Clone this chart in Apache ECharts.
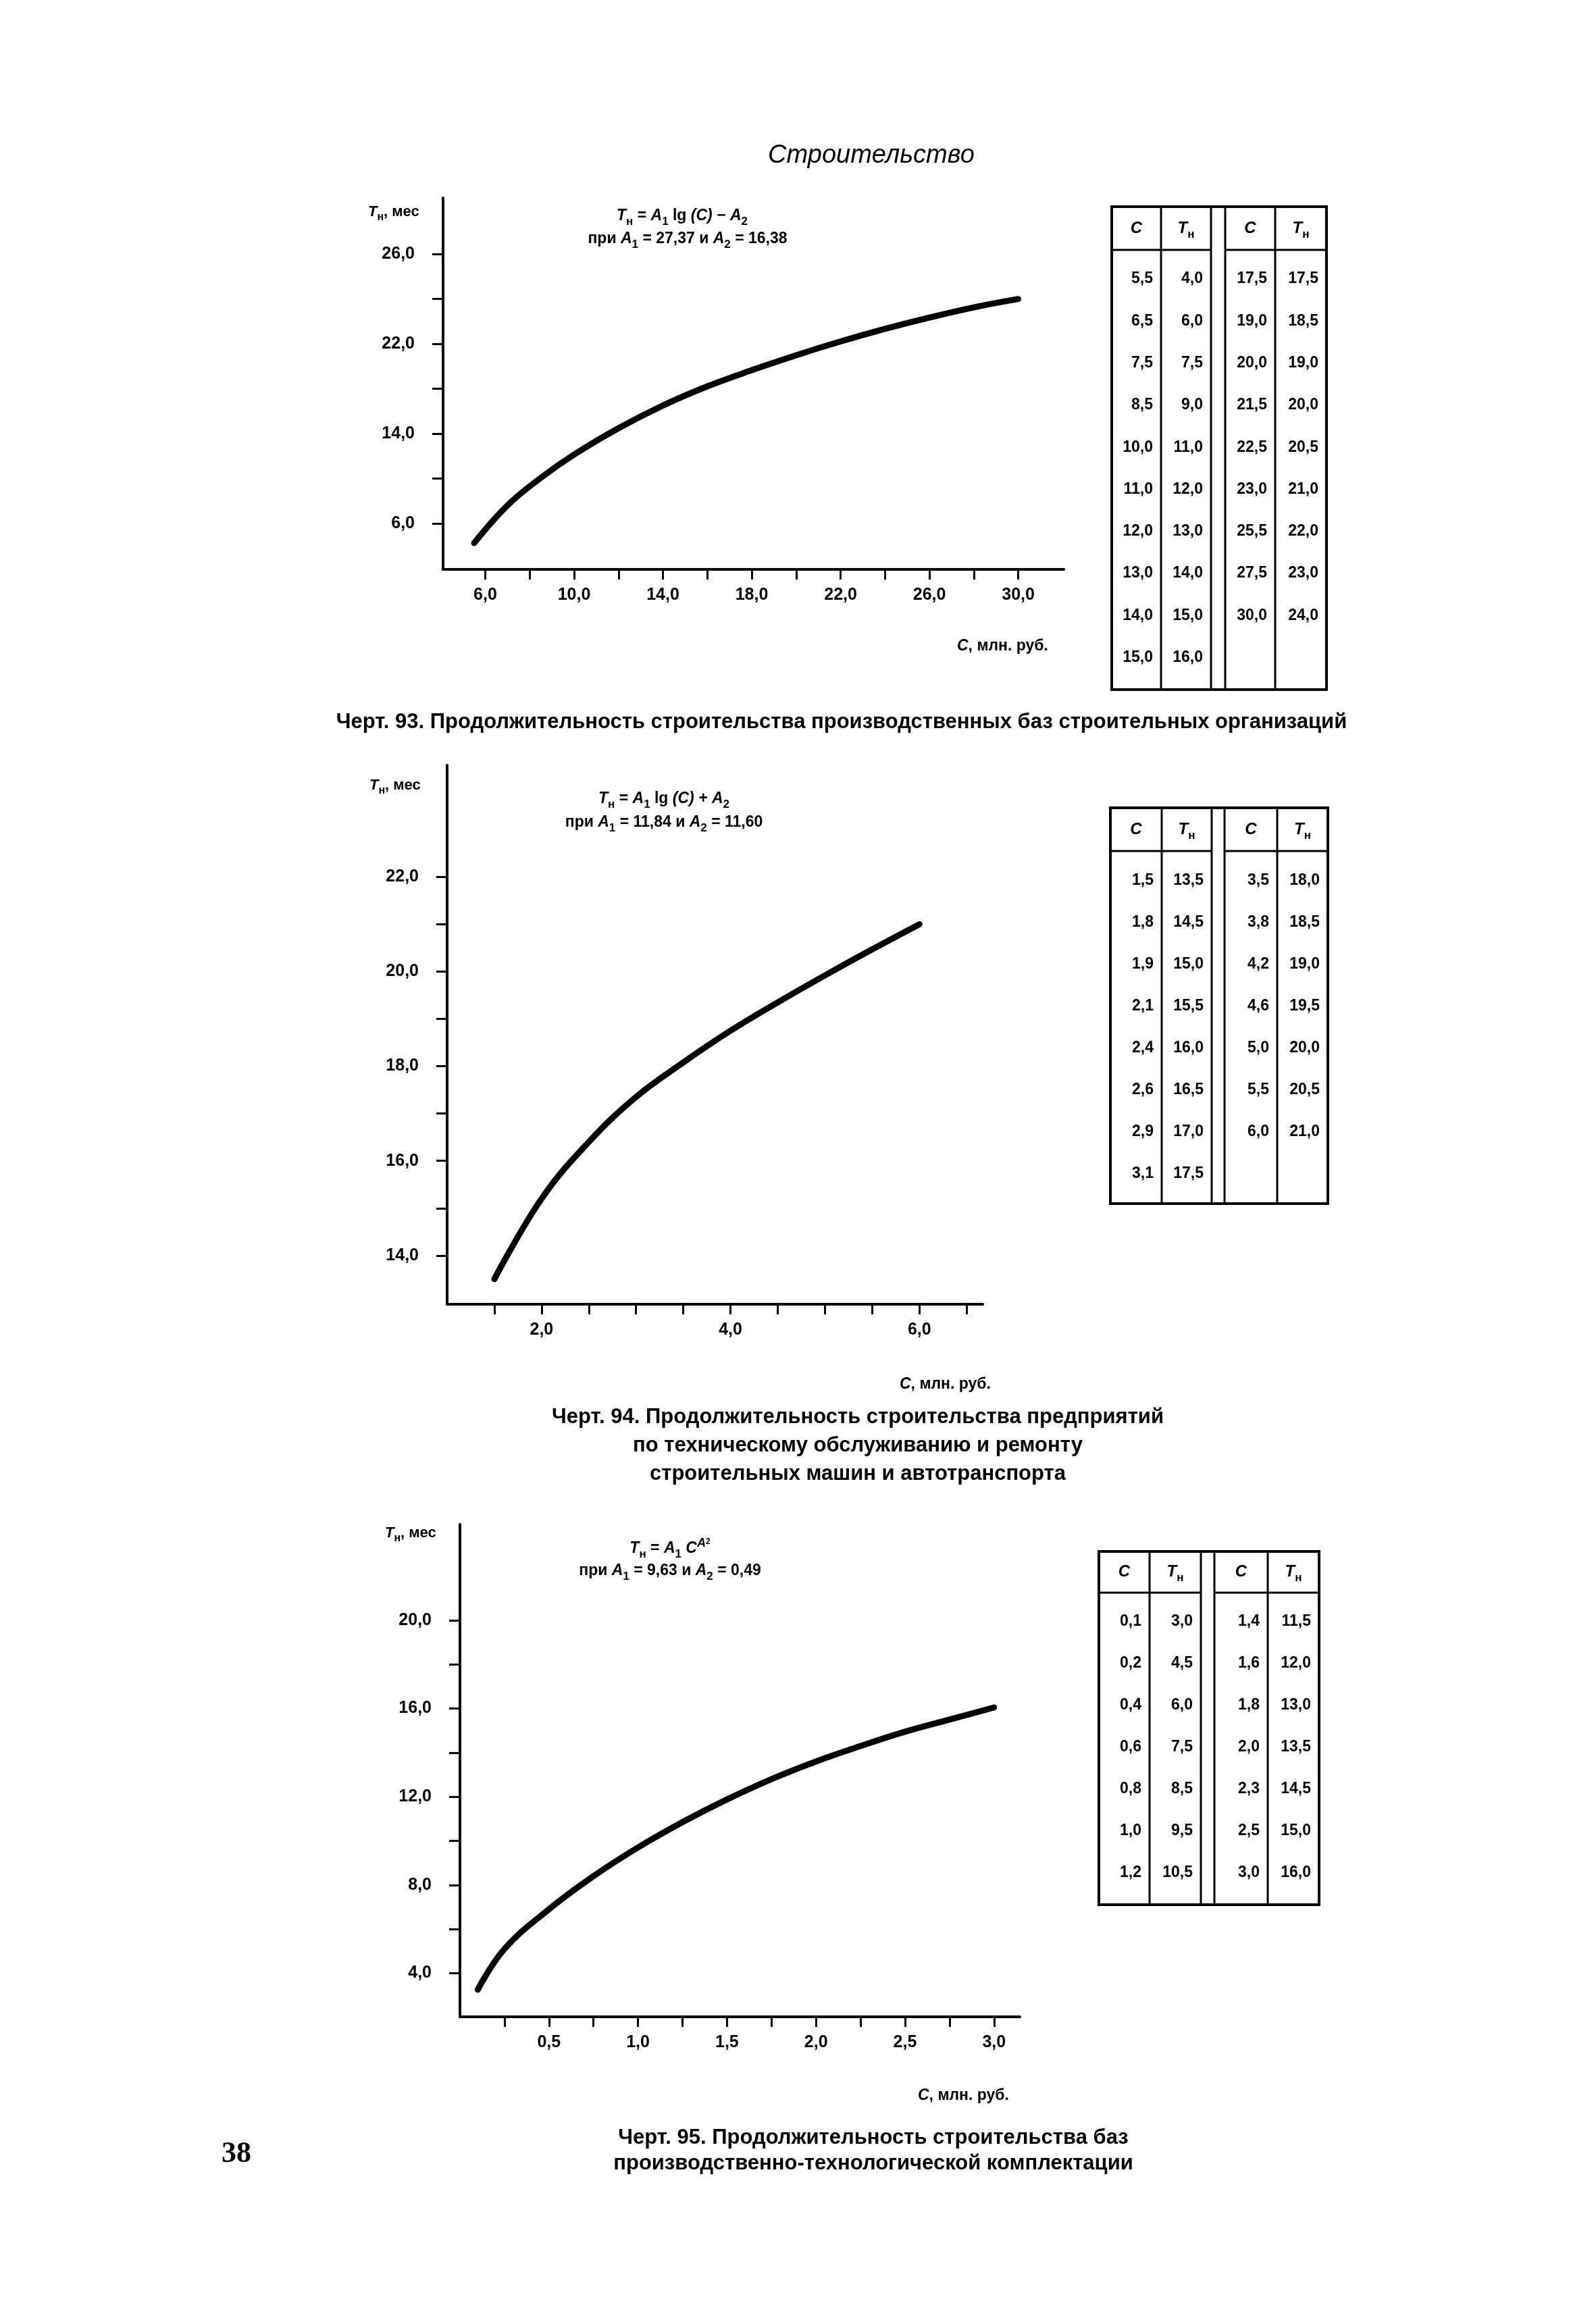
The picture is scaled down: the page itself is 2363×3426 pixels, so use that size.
<!DOCTYPE html>
<html>
<head>
<meta charset="utf-8">
<script src="https://cdn.jsdelivr.net/npm/echarts@6/dist/echarts.min.js"></script>
<style>
html,body{margin:0;padding:0;background:#fff;}
#chart{width:2363px;height:3426px;}
</style>
</head>
<body>
<div id="chart"></div>
<script>
// ---------- DATA ----------
// Chart 93 curve
const curve1C = [5.5, 7, 8.5, 10, 12, 14, 16, 18, 20, 22, 24, 26, 28, 30];
const curve1T = [3.6, 6.75, 9.05, 11.0, 13.2, 15.1, 16.7, 18.05, 19.3, 20.45, 21.5, 22.45, 23.3, 24.0];
// Chart 94 curve
const curve2C = [1.5, 2.0, 2.5, 3.0, 3.5, 4.0, 4.5, 5.0, 5.5, 6.0];
const curve2T = [13.5, 15.2, 16.4, 17.35, 18.08, 18.75, 19.35, 19.92, 20.47, 21.0];
// Chart 95 curve
const curve3C = [0.1, 0.25, 0.5, 0.75, 1.0, 1.25, 1.5, 1.75, 2.0, 2.25, 2.5, 2.75, 3.0];
const curve3T = [3.25, 5.1, 6.9, 8.4, 9.7, 10.85, 11.88, 12.8, 13.6, 14.3, 14.95, 15.5, 16.05];

// Tables
const tbl1C1 = ['5,5','6,5','7,5','8,5','10,0','11,0','12,0','13,0','14,0','15,0'];
const tbl1T1 = ['4,0','6,0','7,5','9,0','11,0','12,0','13,0','14,0','15,0','16,0'];
const tbl1C2 = ['17,5','19,0','20,0','21,5','22,5','23,0','25,5','27,5','30,0'];
const tbl1T2 = ['17,5','18,5','19,0','20,0','20,5','21,0','22,0','23,0','24,0'];

const tbl2C1 = ['1,5','1,8','1,9','2,1','2,4','2,6','2,9','3,1'];
const tbl2T1 = ['13,5','14,5','15,0','15,5','16,0','16,5','17,0','17,5'];
const tbl2C2 = ['3,5','3,8','4,2','4,6','5,0','5,5','6,0'];
const tbl2T2 = ['18,0','18,5','19,0','19,5','20,0','20,5','21,0'];

const tbl3C1 = ['0,1','0,2','0,4','0,6','0,8','1,0','1,2'];
const tbl3T1 = ['3,0','4,5','6,0','7,5','8,5','9,5','10,5'];
const tbl3C2 = ['1,4','1,6','1,8','2,0','2,3','2,5','3,0'];
const tbl3T2 = ['11,5','12,0','13,0','13,5','14,5','15,0','16,0'];

// Axis ticks / labels
const x1Ticks = [6, 8, 10, 12, 14, 16, 18, 20, 22, 24, 26, 28, 30];
const x1Labels = [6, 10, 14, 18, 22, 26, 30];
const y1Ticks = [5.25, 9, 12.75, 16.5, 20.25, 24, 27.75];
const y1LabelVals = [5.25, 12.75, 20.25, 27.75];
const y1LabelText = ['6,0', '14,0', '22,0', '26,0'];

const x2Ticks = [1.5, 2, 2.5, 3, 3.5, 4, 4.5, 5, 5.5, 6, 6.5];
const x2Labels = [2, 4, 6];
const y2Ticks = [14, 15, 16, 17, 18, 19, 20, 21, 22];
const y2Labels = [14, 16, 18, 20, 22];

const x3Ticks = [0.25, 0.5, 0.75, 1, 1.25, 1.5, 1.75, 2, 2.25, 2.5, 2.75, 3];
const x3Labels = [0.5, 1, 1.5, 2, 2.5, 3];
const y3Ticks = [4, 6, 8, 10, 12, 14, 16, 18, 20];
const y3Labels = [4, 8, 12, 16, 20];

// Texts
const pageTitle = 'Строительство';
const caption1 = ['Черт. 93. Продолжительность строительства производственных баз строительных организаций'];
const caption2 = ['Черт. 94. Продолжительность строительства предприятий', 'по техническому обслуживанию и ремонту', 'строительных машин и автотранспорта'];
const caption3 = ['Черт. 95. Продолжительность строительства баз', 'производственно-технологической комплектации'];
const pageNumber = '38';

// ---------- STYLE / LAYOUT ----------
const FF = '"Liberation Sans", Arial, Helvetica, sans-serif';
const BLACK = '#000';
const fmt = v => Number(v).toFixed(1).replace('.', ',');
const zip = (a, b) => a.map((v, i) => [v, b[i]]);

function richSet(fs) {
  const lh = Math.round(fs * 1.45);
  return {
    n: {fontSize: fs, fontWeight: 'bold', fontFamily: FF, color: BLACK, lineHeight: lh, verticalAlign: 'middle'},
    i: {fontSize: fs, fontWeight: 'bold', fontStyle: 'italic', fontFamily: FF, color: BLACK, lineHeight: lh, verticalAlign: 'middle'},
    s: {fontSize: Math.round(fs * 0.72), fontWeight: 'bold', fontFamily: FF, color: BLACK, lineHeight: Math.round(fs * 0.72), verticalAlign: 'bottom'},
    p: {fontSize: Math.round(fs * 0.8), fontWeight: 'bold', fontStyle: 'italic', fontFamily: FF, color: BLACK, lineHeight: Math.round(fs * 0.8), verticalAlign: 'top'},
    q: {fontSize: Math.round(fs * 0.5), fontWeight: 'bold', fontFamily: FF, color: BLACK, lineHeight: Math.round(fs * 1.1), verticalAlign: 'top'}
  };
}

function txt(x, y, text, opt) {
  opt = opt || {};
  const st = {
    text: text, fill: BLACK,
    font: opt.font || ('bold 24px ' + FF),
    align: opt.align || 'center', verticalAlign: 'middle',
    textAlign: opt.align || 'center', textVerticalAlign: 'middle'
  };
  if (opt.rich) st.rich = opt.rich;
  return {type: 'text', x: x, y: y, silent: true, style: st};
}

function ln(x1, y1, x2, y2, w) {
  return {type: 'line', silent: true, shape: {x1: x1, y1: y1, x2: x2, y2: y2},
          style: {stroke: BLACK, lineWidth: w || 3}};
}

function tableEls(L, c1, c2, c3, c4) {
  const els = [];
  const cols = L.cols;
  cols.forEach((x, i) => els.push(ln(x, L.top, x, L.bottom, (i === 0 || i === cols.length - 1) ? 4 : 3)));
  els.push(ln(cols[0] - 2, L.top, cols[5] + 2, L.top, 4));
  els.push(ln(cols[0] - 2, L.bottom, cols[5] + 2, L.bottom, 4));
  els.push(ln(cols[0], L.head, cols[2], L.head, 3));
  els.push(ln(cols[3], L.head, cols[5], L.head, 3));
  const hy = (L.top + L.head) / 2;
  const r = richSet(24);
  const hdr = [[0, '{i|C}'], [1, '{i|T}{s|н}'], [3, '{i|C}'], [4, '{i|T}{s|н}']];
  hdr.forEach(([ci, t]) => els.push(txt((cols[ci] + cols[ci + 1]) / 2, hy, t, {rich: r})));
  const cf = 'bold 23px ' + FF;
  const colData = [[0, c1], [1, c2], [3, c3], [4, c4]];
  colData.forEach(([ci, arr]) => {
    arr.forEach((v, k) => els.push(txt(cols[ci + 1] - 12, L.row0 + k * L.step, v, {font: cf, align: 'right'})));
  });
  return els;
}

const T1 = {cols: [1646, 1719, 1793, 1814, 1888, 1964], top: 306, head: 370, bottom: 1021, row0: 413, step: 62.3};
const T2 = {cols: [1644, 1720, 1794, 1813, 1891, 1966], top: 1196, head: 1260, bottom: 1782, row0: 1304, step: 62.0};
const T3 = {cols: [1627, 1702, 1778, 1798, 1877, 1953], top: 2297, head: 2358, bottom: 2820, row0: 2401, step: 62.0};

const r20 = richSet(22);
const r22 = richSet(23);

const graphics = [].concat(
  [txt(1290, 230, pageTitle, {font: 'italic 38px ' + FF})],
  // chart 93
  [txt(545, 314, '{i|T}{s|н}{n|, мес}', {rich: r20, align: 'left'}),
   txt(1010, 320, '{i|T}{s|н}{n| = }{i|A}{s|1}{n| lg }{i|(C) − A}{s|2}', {rich: r22}),
   txt(1018, 354, '{n|при }{i|A}{s|1}{n| = 27,37 и }{i|A}{s|2}{n| = 16,38}', {rich: r22}),
   txt(1417, 957, '{i|C}{n|, млн. руб.}', {rich: r22, align: 'left'})],
  caption1.map((t, k) => txt(1246, 1069 + k * 41, t, {font: 'bold 31px ' + FF})),
  tableEls(T1, tbl1C1, tbl1T1, tbl1C2, tbl1T2),
  // chart 94
  [txt(547, 1163, '{i|T}{s|н}{n|, мес}', {rich: r20, align: 'left'}),
   txt(983, 1183, '{i|T}{s|н}{n| = }{i|A}{s|1}{n| lg }{i|(C) + A}{s|2}', {rich: r22}),
   txt(983, 1218, '{n|при }{i|A}{s|1}{n| = 11,84 и }{i|A}{s|2}{n| = 11,60}', {rich: r22}),
   txt(1332, 2050, '{i|C}{n|, млн. руб.}', {rich: r22, align: 'left'})],
  caption2.map((t, k) => txt(1270, 2098 + k * 42, t, {font: 'bold 31px ' + FF})),
  tableEls(T2, tbl2C1, tbl2T1, tbl2C2, tbl2T2),
  // chart 95
  [txt(570, 2270, '{i|T}{s|н}{n|, мес}', {rich: r20, align: 'left'}),
   txt(992, 2293, '{i|T}{s|н}{n| = }{i|A}{s|1}{n| }{i|C}{p|A}{q|2}', {rich: r22}),
   txt(992, 2326, '{n|при }{i|A}{s|1}{n| = 9,63 и }{i|A}{s|2}{n| = 0,49}', {rich: r22}),
   txt(1359, 3103, '{i|C}{n|, млн. руб.}', {rich: r22, align: 'left'})],
  caption3.map((t, k) => txt(1293, 3165 + k * 38, t, {font: 'bold 31px ' + FF})),
  tableEls(T3, tbl3C1, tbl3T1, tbl3C2, tbl3T2),
  [txt(350, 3190, pageNumber, {font: 'bold 44px "Liberation Serif", "DejaVu Serif", serif'})]
);

// ---------- AXES ----------
function xAx(gi, min, max, ticks, labels) {
  return {
    type: 'value', gridIndex: gi, min: min, max: max,
    axisLine: {show: true, onZero: false, lineStyle: {color: BLACK, width: 4}},
    axisTick: {show: true, length: 15, customValues: ticks, lineStyle: {color: BLACK, width: 3}},
    axisLabel: {show: true, customValues: labels, formatter: fmt, margin: 26,
                color: BLACK, fontSize: 25, fontWeight: 'bold', fontFamily: FF},
    splitLine: {show: false}
  };
}
function yAx(gi, min, max, ticks, labels, formatter) {
  return {
    type: 'value', gridIndex: gi, min: min, max: max,
    axisLine: {show: true, onZero: false, lineStyle: {color: BLACK, width: 4}},
    axisTick: {show: true, length: 16, customValues: ticks, lineStyle: {color: BLACK, width: 3}},
    axisLabel: {show: true, customValues: labels, formatter: formatter || fmt, margin: 42,
                color: BLACK, fontSize: 25, fontWeight: 'bold', fontFamily: FF},
    splitLine: {show: false}
  };
}
const y1Fmt = v => {
  let best = 0;
  y1LabelVals.forEach((lv, i) => { if (Math.abs(lv - v) < Math.abs(y1LabelVals[best] - v)) best = i; });
  return y1LabelText[best];
};

function curveSeries(i, cs, ts) {
  return {
    type: 'line', xAxisIndex: i, yAxisIndex: i, data: zip(cs, ts),
    smooth: 0.4, symbol: 'none', clip: false, silent: true,
    lineStyle: {color: BLACK, width: 9, cap: 'round', join: 'round'}
  };
}

const option = {
  backgroundColor: '#fff',
  animation: false,
  grid: [
    {left: 656, top: 293, width: 919, height: 550, outerBoundsMode: 'none', containLabel: false},
    {left: 662, top: 1133, width: 793, height: 798, outerBoundsMode: 'none', containLabel: false},
    {left: 681, top: 2257, width: 829, height: 729, outerBoundsMode: 'none', containLabel: false}
  ],
  xAxis: [
    xAx(0, 4.1, 32.05, x1Ticks, x1Labels),
    xAx(1, 1.0, 6.67, x2Ticks, x2Labels),
    xAx(2, 0, 3.145, x3Ticks, x3Labels)
  ],
  yAxis: [
    yAx(0, 1.4, 32.45, y1Ticks, y1LabelVals, y1Fmt),
    yAx(1, 12.97, 24.36, y2Ticks, y2Labels),
    yAx(2, 2.02, 24.35, y3Ticks, y3Labels)
  ],
  series: [
    curveSeries(0, curve1C, curve1T),
    curveSeries(1, curve2C, curve2T),
    curveSeries(2, curve3C, curve3T)
  ],
  graphic: {elements: graphics}
};

const chart = echarts.init(document.getElementById('chart'), null, {renderer: 'canvas', width: 2363, height: 3426});
chart.setOption(option);
</script>
</body>
</html>
